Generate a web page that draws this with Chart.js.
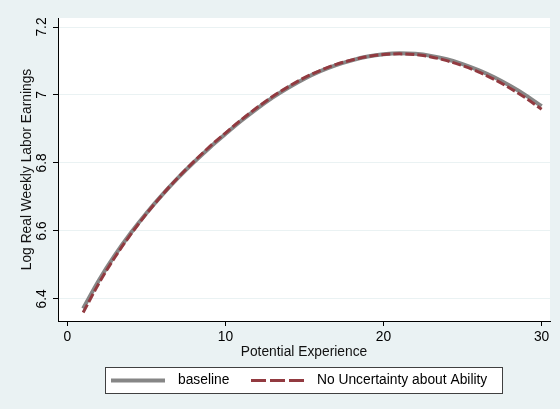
<!DOCTYPE html>
<html>
<head>
<meta charset="utf-8">
<script src="https://cdn.jsdelivr.net/npm/chart.js@4.4.1/dist/chart.umd.min.js"></script>
<style>
	html, body { margin: 0; padding: 0; background: #eaf2f3; }
	#wrap { width: 560px; height: 409px; }
</style>
</head>
<body>
<div id="wrap"><canvas id="chart" width="560" height="409"></canvas></div>
<script>
// Earnings profiles

const experience = [1, 2, 3, 4, 5, 6, 7, 8, 9, 10, 11, 12, 13, 14, 15, 16, 17, 18, 19, 20, 21, 22, 23, 24, 25, 26, 27, 28, 29, 30];

const baseline = [
	6.372, 6.455, 6.528, 6.593, 6.652, 6.706, 6.756, 6.802, 6.845, 6.885,
	6.924, 6.960, 6.993, 7.022, 7.048, 7.070, 7.088, 7.102, 7.113, 7.120,
	7.123, 7.121, 7.115, 7.105, 7.091, 7.073, 7.052, 7.027, 6.999, 6.967,
];

const noUncertainty = [
	6.360, 6.446, 6.522, 6.589, 6.650, 6.706, 6.757, 6.804, 6.848, 6.888,
	6.927, 6.963, 6.996, 7.025, 7.051, 7.072, 7.090, 7.103, 7.113, 7.119,
	7.121, 7.119, 7.112, 7.101, 7.086, 7.068, 7.046, 7.020, 6.991, 6.958,
];

const seriesLabels = ["baseline", "No Uncertainty about Ability"];
const xTickValues = [0, 10, 20, 30];
const yTickValues = [6.4, 6.6, 6.8, 7, 7.2];

const BG = "#eaf2f3";
const GREY = "#868686";
const RED = "#923a40";
const FONT = { family: "Liberation Sans, Arial, sans-serif", size: 13.8 };

const backgroundPlugin = {
	id: "stataBackground",
	beforeDraw(chart) {
		const { ctx, chartArea: a } = chart;
		ctx.save();
		ctx.fillStyle = BG;
		ctx.fillRect(0, 0, chart.width, chart.height);
		ctx.fillStyle = "#ffffff";
		ctx.fillRect(a.left, a.top, a.right - a.left, a.bottom - a.top);
		ctx.restore();
	},
};

// legend box under the axis title, drawn from the dataset styles
const legendBoxPlugin = {
	id: "legendBox",
	afterDraw(chart) {
		const { ctx } = chart;
		const sets = chart.data.datasets;
		ctx.save();
		ctx.fillStyle = "#ffffff";
		ctx.fillRect(105, 367, 397, 26);
		ctx.strokeStyle = "#404040";
		ctx.lineWidth = 1;
		ctx.strokeRect(105.5, 367.5, 397, 26);

		ctx.font = `${FONT.size}px ${FONT.family}`;
		ctx.fillStyle = "#000";
		ctx.textBaseline = "middle";
		const y = 380.5;
		const items = [
			{ x0: 111, x1: 165, tx: 178 },
			{ x0: 251, x1: 306, tx: 317 },
		];
		items.forEach((it, i) => {
			ctx.beginPath();
			ctx.strokeStyle = sets[i].borderColor;
			ctx.lineWidth = sets[i].borderWidth;
			ctx.setLineDash(i === 1 ? [15, 4] : []);
			ctx.moveTo(it.x0, y);
			ctx.lineTo(it.x1, y);
			ctx.stroke();
			ctx.setLineDash([]);
			ctx.fillText(seriesLabels[i], it.tx, y);
		});
		ctx.restore();
	},
};

const ctx = document.getElementById("chart").getContext("2d");

new Chart(ctx, {
	type: "line",
	data: {
		labels: experience,
		datasets: [
			{
				label: seriesLabels[0],
				data: experience.map((x, i) => ({ x, y: baseline[i] })),
				borderColor: GREY,
				borderWidth: 4,
				pointRadius: 0,
				cubicInterpolationMode: "monotone",
				fill: false,
				order: 2,
			},
			{
				label: seriesLabels[1],
				data: experience.map((x, i) => ({ x, y: noUncertainty[i] })),
				borderColor: RED,
				borderWidth: 3,
				borderDash: [9, 3],
				pointRadius: 0,
				cubicInterpolationMode: "monotone",
				fill: false,
				order: 1,
			},
		],
	},
	options: {
		responsive: false,
		animation: false,
		devicePixelRatio: 1,
		layout: { padding: { left: 0, right: 10, top: 18, bottom: 0 } },
		plugins: {
			legend: { display: false },
			tooltip: { enabled: false },
		},
		scales: {
			x: {
				type: "linear",
				min: -0.59,
				max: 30.53,
				afterBuildTicks: (scale) => {
					scale.ticks = xTickValues.map((v) => ({ value: v }));
				},
				afterFit: (scale) => {
					scale.height = 88;
				},
				ticks: {
					font: FONT,
					color: "#000",
					padding: 3,
					maxRotation: 0,
					callback: (v) => String(v),
				},
				grid: { drawOnChartArea: false, tickLength: 5, tickColor: "#000" },
				border: { color: "#000", width: 1 },
				title: {
					display: true,
					text: "Potential Experience",
					font: FONT,
					color: "#111",
					padding: { top: 0, bottom: 49 },
				},
			},
			y: {
				min: 6.335,
				max: 7.2265,
				afterBuildTicks: (scale) => {
					scale.ticks = yTickValues.map((v) => ({ value: v }));
				},
				afterFit: (scale) => {
					scale.width = 58;
				},
				ticks: {
					font: FONT,
					color: "#000",
					padding: 1,
					minRotation: 90,
					maxRotation: 90,
					crossAlign: "center",
					callback: (v) => String(+v.toFixed(1)),
				},
				grid: { color: BG, tickLength: 5, tickColor: "#000" },
				border: { color: "#000", width: 1 },
				title: {
					display: true,
					text: "Log Real Weekly Labor Earnings",
					font: FONT,
					color: "#111",
					padding: { top: 19, bottom: 0 },
				},
			},
		},
	},
	plugins: [backgroundPlugin, legendBoxPlugin],
});
</script>
</body>
</html>
